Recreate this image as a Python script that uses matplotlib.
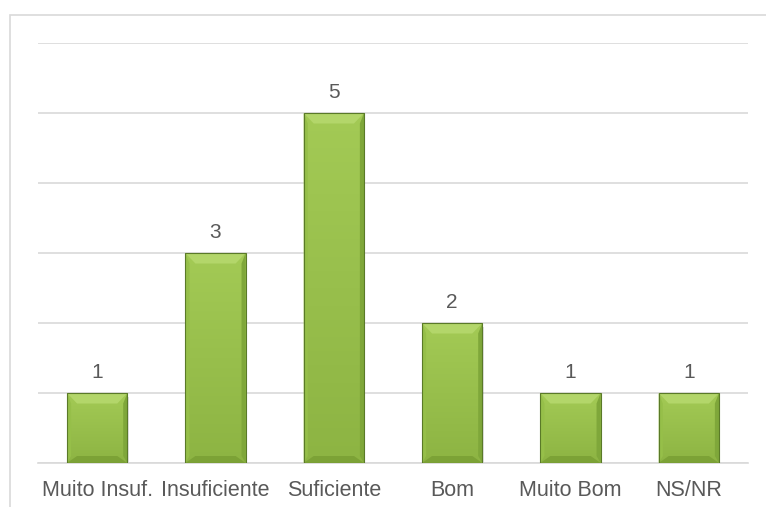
import matplotlib
matplotlib.use("Agg")
import numpy as np
import matplotlib.pyplot as plt
from matplotlib.patches import Polygon, Rectangle
from matplotlib.colors import LinearSegmentedColormap

categorias = ["Muito Insuf.", "Insuficiente", "Suficiente", "Bom", "Muito Bom", "NS/NR"]
valores = [1, 3, 5, 2, 1, 1]

plt.rcParams['font.family'] = ['Liberation Sans', 'DejaVu Sans']

fig = plt.figure(figsize=(7.66, 5.07), dpi=100)
ax = fig.add_axes([38/766, 1 - 463/507, 710/766, 420/507])

# moldura do grafico
fig.patches.append(Rectangle((10/766, -0.1), 1.0, 1 - 15/507 + 0.1,
                             transform=fig.transFigure, fill=False,
                             edgecolor="#D9D9D9", linewidth=1.2))

cmap = LinearSegmentedColormap.from_list("verde", ["#8DB443", "#A3CA55"])
grad = np.linspace(0, 1, 100).reshape(-1, 1)

w = 0.51
bx = 0.085   # bisel horizontal (topo)
by = 0.15    # bisel vertical (topo)
sx = 0.035   # laterais
bb = 0.10    # bisel de baixo
for i, v in enumerate(valores):
    x0, x1 = i - w/2, i + w/2
    # sombra
    ax.add_patch(Rectangle((x0 + 0.01, -0.06), w, v, facecolor="#000000", alpha=0.12,
                           edgecolor="none", zorder=2))
    corpo = Rectangle((x0, 0), w, v, facecolor="none", edgecolor="none", zorder=3)
    ax.add_patch(corpo)
    im = ax.imshow(grad, extent=(x0, x1, 0, v), origin="lower", cmap=cmap,
                   aspect="auto", zorder=3)
    im.set_clip_path(corpo)
    # faces do bisel
    ax.add_patch(Polygon([(x0, v), (x1, v), (x1 - bx, v - by), (x0 + bx, v - by)],
                         facecolor="#B3D66A", edgecolor="none", zorder=4))
    ax.add_patch(Polygon([(x0, 0), (x1, 0), (x1 - bx, bb), (x0 + bx, bb)],
                         facecolor="#7CA236", edgecolor="none", zorder=4))
    ax.add_patch(Polygon([(x1, 0), (x1, v), (x1 - sx, v - by), (x1 - sx, bb)],
                         facecolor="#7FA73A", edgecolor="none", zorder=4))
    ax.add_patch(Polygon([(x0, 0), (x0, v), (x0 + sx, v - by), (x0 + sx, bb)],
                         facecolor="#96BF49", edgecolor="none", zorder=4))
    ax.add_patch(Rectangle((x0, 0), w, v, fill=False, edgecolor="#5A7A28",
                           linewidth=0.8, zorder=5))
    ax.text(i, v + 0.22, str(v), ha="center", va="baseline", fontsize=15, color="#595959")

ax.set_xlim(-0.5, len(valores) - 0.5)
ax.set_ylim(0, 6)
ax.set_yticks(range(0, 7))
ax.yaxis.grid(True, color="#D9D9D9", linewidth=1.2)
ax.set_axisbelow(True)
ax.set_yticklabels([])
ax.tick_params(axis="y", length=0)
ax.set_xticks(range(len(categorias)))
ax.set_xticklabels(categorias, fontsize=15.5, color="#595959")
ax.tick_params(axis="x", length=0, pad=12)
for s in ["top", "right", "left"]:
    ax.spines[s].set_visible(False)
ax.spines["bottom"].set_color("#D9D9D9")
ax.spines["bottom"].set_linewidth(1.2)

plt.savefig("out.png", dpi=100)
